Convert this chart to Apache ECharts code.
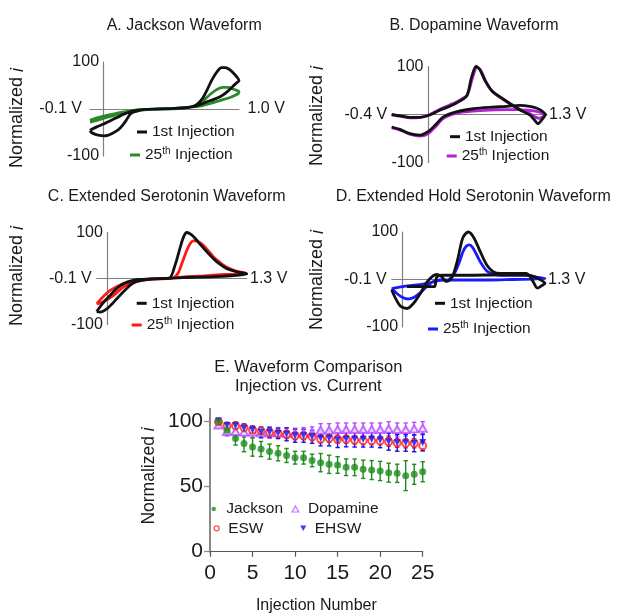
<!DOCTYPE html>
<html><head><meta charset="utf-8">
<script src="https://cdn.jsdelivr.net/npm/echarts@6/dist/echarts.min.js"></script>
<style>html,body{margin:0;padding:0;background:#fff}#c{width:617px;height:613px}</style>
</head><body><div id="c"></div>
<script>
// ---------- Panel A: Jackson waveform (potential V, normalized current) ----------
const jacksonFirstV = [-0.10,-0.05,0.00,0.05,0.10,0.15,0.22,0.30,0.40,0.50,0.58,0.64,0.69,0.73,0.76,0.80,0.84,0.87,0.90,0.93,0.96,0.99,1.00,0.98,0.95,0.91,0.86,0.81,0.76,0.71,0.66,0.60,0.50,0.40,0.30,0.24,0.20,0.17,0.14,0.11,0.07,0.03,0.00,-0.03,-0.06,-0.09,-0.10];
const jacksonFirstI = [-45,-38,-32,-25,-18,-11,-4,-1,0,1,2,4,10,22,38,62,80,88,88,84,76,66,60,55,47,36,26,20,15,9,5,3,1,0,-1,-5,-10,-23,-35,-44,-51,-56,-57,-56,-54,-50,-46];
const jacksonLastV = [-0.10,-0.05,0.05,0.15,0.25,0.40,0.55,0.62,0.69,0.73,0.76,0.80,0.84,0.88,0.92,0.96,1.00,0.99,0.93,0.86,0.79,0.71,0.64,0.50,0.35,0.25,0.15,0.05,-0.05,-0.10];
const jacksonLastI = [-24,-19,-12,-6,-2,0,1,3,8,15,24,34,42,46,46,42,37,32,24,18,12,6,4,1,-1,-4,-9,-16,-24,-28];
// ---------- Panel B: Dopamine waveform ----------
const dopamineFirstV = [-0.40,-0.30,-0.20,-0.09,0.02,0.13,0.24,0.35,0.43,0.48,0.53,0.57,0.63,0.70,0.79,0.90,1.01,1.12,1.18,1.21,1.25,1.29,1.25,1.20,1.12,1.01,0.87,0.68,0.50,0.32,0.17,0.08,0.00,-0.09,-0.20,-0.31,-0.40];
const dopamineFirstI = [0,-3,-6,-6,-1,9,17,28,40,78,100,94,70,50,37,23,10,-1,-13,-19,-12,0,8,13,17,19,17,15,12,6,-5,-22,-36,-43,-40,-31,-26];
const dopamineLastV = [-0.40,-0.30,-0.20,-0.09,0.02,0.13,0.24,0.35,0.43,0.49,0.54,0.58,0.64,0.71,0.80,0.91,1.02,1.12,1.19,1.23,1.27,1.30,1.25,1.18,1.10,1.00,0.87,0.68,0.50,0.32,0.17,0.08,0.00,-0.09,-0.20,-0.31,-0.40];
const dopamineLastI = [-1,-4,-7,-6,0,11,20,30,40,76,98,92,68,48,35,22,10,2,-6,-8,-4,0,4,7,9,10,10,9,7,3,-8,-26,-40,-45,-41,-32,-28];
// ---------- Panel C: Extended serotonin waveform ----------
const eswFirstV = [-0.10,-0.07,-0.03,0.02,0.06,0.10,0.15,0.22,0.30,0.40,0.50,0.58,0.63,0.68,0.71,0.74,0.78,0.82,0.86,0.92,0.99,1.05,1.11,1.20,1.30,1.25,1.15,1.00,0.85,0.70,0.55,0.45,0.35,0.28,0.22,0.17,0.12,0.08,0.04,0.00,-0.04,-0.07,-0.10];
const eswFirstI = [-72,-62,-50,-38,-28,-19,-11,-5,-2,-1,0,1,28,68,90,100,96,87,76,60,43,31,22,15,10,8,6,4,3,2,0,-1,-3,-6,-13,-24,-36,-46,-56,-65,-71,-73,-72];
const eswLastV = [-0.10,-0.07,0.02,0.12,0.24,0.30,0.40,0.50,0.58,0.62,0.66,0.70,0.74,0.77,0.80,0.84,0.90,0.99,1.05,1.11,1.20,1.30,1.25,1.15,1.02,0.85,0.71,0.55,0.40,0.30,0.24,0.15,0.06,-0.04,-0.10];
const eswLastI = [-55,-47,-27,-14,-7,-4,-1,0,0,2,12,36,61,75,82,81,71,47,35,25,16,11,10,9,8,5,3.6,0,-2,-5,-9,-18,-36,-51,-55];
// ---------- Panel D: Extended hold serotonin waveform ----------
const ehswFirstV = [-0.10,-0.06,-0.02,0.04,0.10,0.16,0.22,0.28,0.31,0.35,0.40,0.45,0.50,0.55,0.60,0.65,0.71,0.77,0.83,0.89,1.00,1.13,1.19,1.23,1.27,1.30,1.24,1.17,1.10,0.90,0.60,0.36,0.31,0.29,0.20,0.10,0.04];
const ehswFirstI = [-22,-42,-56,-61,-50,-30,-6,8,11,7,-4,4,40,88,100,88,58,30,16,13,13,13,-4,-18,-13,-8,2,8,10,10,9,9,5,-15,-15,-15,-15];
const ehswLastV = [-0.10,-0.05,0.00,0.05,0.10,0.16,0.22,0.28,0.34,0.41,0.45,0.48,0.52,0.55,0.58,0.61,0.64,0.68,0.72,0.78,0.89,1.00,1.13,1.22,1.30,1.19,1.00,0.80,0.60,0.42,0.34,0.28,0.20,0.10,0.00,-0.10];
const ehswLastI = [-19,-30,-38,-41,-38,-28,-15,-4,-1,-1,6,16,38,58,70,73,67,50,33,16,9,9,9,5,2,1,0,-1,-1,-1,-2,-5,-9,-12,-15,-19];
// ---------- Panel E: injection vs normalized current (mean, SD) ----------
const injectionNumbers = [1,2,3,4,5,6,7,8,9,10,11,12,13,14,15,16,17,18,19,20,21,22,23,24,25];
const jacksonMean = [100,93.5,87,83.3,80.5,79,77,75.7,74,72.3,72.3,70.2,68.5,67.2,66.7,65,64.9,63.4,62.8,62.1,60.8,60.3,58.5,59.5,61.5];
const jacksonSD   = [1,3,5,6.4,7,5.8,5.8,5.8,5.4,4.9,4.9,4.8,7,7,6.4,6.4,6.4,7,7.3,7.4,7.3,7,11.5,7.7,7.7];
const dopamineMean = [97.5,92.5,92.5,92,92,91.5,91.5,91.5,91,91,91,91.5,93.5,93.5,94,94,94,94,94,94,94.5,94,94,94.5,95];
const dopamineSD   = [2,3.5,4,4,4,4,4,4,4,4,4.5,4.5,5,5,5,5,5,5,5,5,5.5,5,5,5,5];
const eswMean = [100,96.9,96.9,95.4,93.6,92.8,91.8,91,90.3,89.2,89.2,88.5,86.7,87.2,86.5,86.5,85.9,85.4,85.4,85.2,84.6,83.8,83.4,83.4,81.5];
const eswSD   = [1.5,2,3,3,3,3,3,3,3,3,3,3,3,3,3,3,3,3,3,3,3.5,3.5,3.5,3.5,3.5];
const ehswMean = [100.5,97,96.9,95,93.6,91.8,91.8,91,90.3,89.2,89.2,88.4,87.2,87.2,85.9,86.5,86.5,86.5,86.5,86,84.6,83.8,83.8,83.4,84];
const ehswSD   = [2,2,2,3,3,4,4,4,5,5,5,5,5.8,5.8,5.8,5.8,6,6,6,6,6.5,6.5,6.5,6.5,6.5];
// ---------- axis ticks / limits ----------
const limitsA = [-0.1, 1.0];
const limitsB = [-0.4, 1.3];
const limitsC = [-0.1, 1.3];
const limitsD = [-0.1, 1.3];
const currentLimits = [-100, 100];
const injectionTicks = [0, 5, 10, 15, 20, 25];
const normalizedTicks = [0, 50, 100];

const FONT = 'Liberation Sans';
const TXT = '#1a1a1a';
const AX = '#808080';
const BLACK = '#111111', GREEN = '#2a8a2a', PURPLE = '#b520d6', RED = '#ff1a1a', BLUE = '#1a1aff';
const E_GREEN = '#1e8c1e', E_RED = '#ff2020', E_BLUE = '#1010f0', E_PURPLE = '#b84cff';

const zip = (a, b) => a.map((x, k) => [x, b[k]]);

const grids = [
  {left: 90, top: 62, width: 149, height: 94},
  {left: 391.7, top: 66.5, width: 154.3, height: 96},
  {left: 96.7, top: 232.5, width: 150, height: 92},
  {left: 391.7, top: 232, width: 153.3, height: 95},
  {left: 210, top: 408.7, width: 212.7, height: 143}
].map(g => Object.assign(g, {outerBoundsMode: 'none', containLabel: false}));

// x axis drawn at current = 0, y axis drawn at potential = 0 (moved with offset)
function cvX(idx, lim, gapL, gapR) {
  const g = grids[idx];
  const off = -g.height * (0 - currentLimits[0]) / (currentLimits[1] - currentLimits[0]);
  return {
    type: 'value', gridIndex: idx, min: lim[0], max: lim[1], position: 'bottom', offset: off,
    axisLine: {show: true, onZero: false, lineStyle: {color: AX, width: 1.2}},
    axisTick: {show: false}, splitLine: {show: false},
    axisLabel: {
      show: true, customValues: lim, margin: 0, verticalAlign: 'middle',
      alignMinLabel: 'right', alignMaxLabel: 'left',
      fontSize: 16, fontFamily: FONT, color: TXT,
      formatter: v => (Math.abs(v - lim[0]) < 1e-9 ? '{mn|' : '{mx|') + v.toFixed(1) + ' V}',
      rich: {
        mn: {fontSize: 16, fontFamily: FONT, color: TXT, padding: [0, gapL, 0, 0]},
        mx: {fontSize: 16, fontFamily: FONT, color: TXT, padding: [0, 0, 0, gapR]}
      }
    }
  };
}
function cvY(idx, lim) {
  const g = grids[idx];
  const off = -g.width * (0 - lim[0]) / (lim[1] - lim[0]);
  return {
    type: 'value', gridIndex: idx, min: currentLimits[0], max: currentLimits[1], position: 'left', offset: off,
    axisLine: {show: true, onZero: false, lineStyle: {color: AX, width: 1.2}},
    axisTick: {show: false}, splitLine: {show: false},
    axisLabel: {show: true, customValues: currentLimits, margin: 4.5, fontSize: 16, fontFamily: FONT, color: TXT}
  };
}
function cvLine(idx, name, v, i, color) {
  return {
    type: 'line', name, xAxisIndex: idx, yAxisIndex: idx, data: zip(v, i),
    showSymbol: false, symbol: 'none', smooth: 0.3, clip: false, silent: true,
    lineStyle: {color, width: 2.8}, itemStyle: {color}
  };
}
function cvLegend(left, top, name, color) {
  return {
    left, top, padding: 0, selectedMode: false, icon: 'rect', itemWidth: 10, itemHeight: 3,
    itemStyle: {borderWidth: 0},
    textStyle: {fontSize: 15.5, fontFamily: FONT, color: TXT, lineHeight: 18,
      rich: {sup: {fontSize: 10, fontFamily: FONT, color: TXT, lineHeight: 10, verticalAlign: 'top'}}},
    formatter: n => n.replace(/(\d+)th/, '$1{sup|th}'),
    data: [{name, itemStyle: {color, borderWidth: 0}}]
  };
}
function eLegend(left, top, name, icon, w, h, style) {
  return {
    left, top, padding: 0, selectedMode: false, itemWidth: w, itemHeight: h, symbolKeepAspect: true,
    textStyle: {fontSize: 15.5, fontFamily: FONT, color: TXT, lineHeight: 18},
    data: [{name, icon, itemStyle: style}]
  };
}
function errSeries(mean, sd, color) {
  return {
    type: 'custom', xAxisIndex: 4, yAxisIndex: 4, silent: true, clip: false,
    data: injectionNumbers.map((n, k) => [n, mean[k] - sd[k], mean[k] + sd[k]]),
    encode: {x: 0, y: [1, 2]},
    renderItem: (params, api) => {
      const x = api.value(0);
      const p1 = api.coord([x, api.value(1)]);
      const p2 = api.coord([x, api.value(2)]);
      const hw = 2.2, st = {stroke: color, lineWidth: 1.4};
      return {type: 'group', children: [
        {type: 'line', shape: {x1: p1[0], y1: p1[1], x2: p2[0], y2: p2[1]}, style: st},
        {type: 'line', shape: {x1: p1[0] - hw, y1: p1[1], x2: p1[0] + hw, y2: p1[1]}, style: st},
        {type: 'line', shape: {x1: p2[0] - hw, y1: p2[1], x2: p2[0] + hw, y2: p2[1]}, style: st}
      ]};
    }
  };
}
function txt(x, y, text, size) {
  return {type: 'text', x, y, silent: true,
    style: {text, fontSize: size, fontFamily: FONT, fill: TXT, align: 'center', verticalAlign: 'middle'}};
}
function yName(x, y, size) {
  return {type: 'text', x, y, rotation: Math.PI / 2, silent: true,
    style: {text: 'Normalized {it|i}', fontSize: size, fontFamily: FONT, fill: TXT, align: 'center', verticalAlign: 'middle',
      rich: {it: {fontStyle: 'italic', fontSize: size, fontFamily: FONT, fill: TXT}}}};
}

const option = {
  animation: false,
  backgroundColor: '#ffffff',
  textStyle: {fontFamily: FONT, color: TXT},
  grid: grids,
  xAxis: [
    cvX(0, limitsA, 8, 8.5), cvX(1, limitsB, 4.5, 3), cvX(2, limitsC, 5, 3.3), cvX(3, limitsD, 5, 3),
    {
      type: 'value', gridIndex: 4, min: injectionTicks[0], max: injectionTicks[injectionTicks.length - 1], interval: 5,
      axisLine: {show: true, onZero: false, lineStyle: {color: '#555', width: 1.2}},
      axisTick: {show: true, length: 5, lineStyle: {color: '#555', width: 1.2}},
      axisLabel: {fontSize: 21, fontFamily: FONT, color: TXT, margin: 11},
      splitLine: {show: false},
      name: 'Injection Number', nameLocation: 'middle', nameGap: 45.5,
      nameTextStyle: {fontSize: 16, fontFamily: FONT, color: TXT}
    }
  ],
  yAxis: [
    cvY(0, limitsA), cvY(1, limitsB), cvY(2, limitsC), cvY(3, limitsD),
    {
      type: 'value', gridIndex: 4, min: 0, max: 110,
      axisLine: {show: true, onZero: false, lineStyle: {color: '#8a8a8a', width: 2}},
      axisTick: {show: true, length: 6, customValues: normalizedTicks, lineStyle: {color: '#8a8a8a', width: 1.3}},
      axisLabel: {customValues: normalizedTicks, fontSize: 21, fontFamily: FONT, color: TXT, margin: 7},
      splitLine: {show: false}
    }
  ],
  legend: [
    cvLegend(137, 123, '1st Injection', BLACK), cvLegend(130, 146, '25th Injection', GREEN),
    cvLegend(450, 127.7, '1st Injection', BLACK), cvLegend(446.7, 147, '25th Injection', PURPLE),
    cvLegend(136.7, 294.3, '1st Injection', BLACK), cvLegend(131.7, 316, '25th Injection', RED),
    cvLegend(435, 294.3, '1st Injection', BLACK), cvLegend(428, 320, '25th Injection', BLUE),
    eLegend(211.5, 500, 'Jackson', 'circle', 15, 4.5, {color: E_GREEN, borderWidth: 0}),
    eLegend(291.5, 500, 'Dopamine', 'path://M5,0L10,9L0,9Z', 15, 6, {color: '#fff', borderColor: E_PURPLE, borderWidth: 1.2}),
    eLegend(213.5, 519.3, 'ESW', 'circle', 13, 5, {color: '#fff', borderColor: E_RED, borderWidth: 1.3}),
    eLegend(300.2, 519.3, 'EHSW', 'path://M0,0L10,0L5,9Z', 13, 5.5, {color: E_BLUE, borderWidth: 0})
  ],
  graphic: [
    txt(184.2, 25.7, 'A. Jackson Waveform', 16),
    txt(474, 25.7, 'B. Dopamine Waveform', 16),
    txt(166.7, 197, 'C. Extended Serotonin Waveform', 16),
    txt(473.3, 197, 'D. Extended Hold Serotonin Waveform', 16),
    txt(308.3, 367, 'E. Waveform Comparison', 16.5),
    txt(308.3, 386.5, 'Injection vs. Current', 16.5),
    yName(17.5, 118, 18), yName(317.5, 116, 18), yName(17.5, 276, 18), yName(317.5, 280, 18), yName(149, 476, 17.5)
  ],
  series: [
    cvLine(0, '25th Injection', jacksonLastV, jacksonLastI, GREEN),
    cvLine(0, '1st Injection', jacksonFirstV, jacksonFirstI, BLACK),
    cvLine(1, '25th Injection', dopamineLastV, dopamineLastI, PURPLE),
    cvLine(1, '1st Injection', dopamineFirstV, dopamineFirstI, BLACK),
    cvLine(2, '25th Injection', eswLastV, eswLastI, RED),
    cvLine(2, '1st Injection', eswFirstV, eswFirstI, BLACK),
    cvLine(3, '25th Injection', ehswLastV, ehswLastI, BLUE),
    cvLine(3, '1st Injection', ehswFirstV, ehswFirstI, BLACK),
    errSeries(dopamineMean, dopamineSD, E_PURPLE),
    {type: 'scatter', name: 'Dopamine', xAxisIndex: 4, yAxisIndex: 4, data: zip(injectionNumbers, dopamineMean),
      symbol: 'emptyTriangle', symbolSize: [8, 7], itemStyle: {color: E_PURPLE, borderWidth: 1.2}},
    errSeries(eswMean, eswSD, E_RED),
    {type: 'scatter', name: 'ESW', xAxisIndex: 4, yAxisIndex: 4, data: zip(injectionNumbers, eswMean),
      symbol: 'emptyCircle', symbolSize: 7, itemStyle: {color: E_RED, borderWidth: 1.6}},
    errSeries(ehswMean, ehswSD, E_BLUE),
    {type: 'scatter', name: 'EHSW', xAxisIndex: 4, yAxisIndex: 4, data: zip(injectionNumbers, ehswMean),
      symbol: 'triangle', symbolRotate: 180, symbolSize: 7, itemStyle: {color: E_BLUE}},
    errSeries(jacksonMean, jacksonSD, E_GREEN),
    {type: 'scatter', name: 'Jackson', xAxisIndex: 4, yAxisIndex: 4, data: zip(injectionNumbers, jacksonMean),
      symbol: 'circle', symbolSize: 7, itemStyle: {color: E_GREEN}}
  ]
};
const chart = echarts.init(document.getElementById('c'), null, {renderer: 'canvas'});
chart.setOption(option);
</script></body></html>
